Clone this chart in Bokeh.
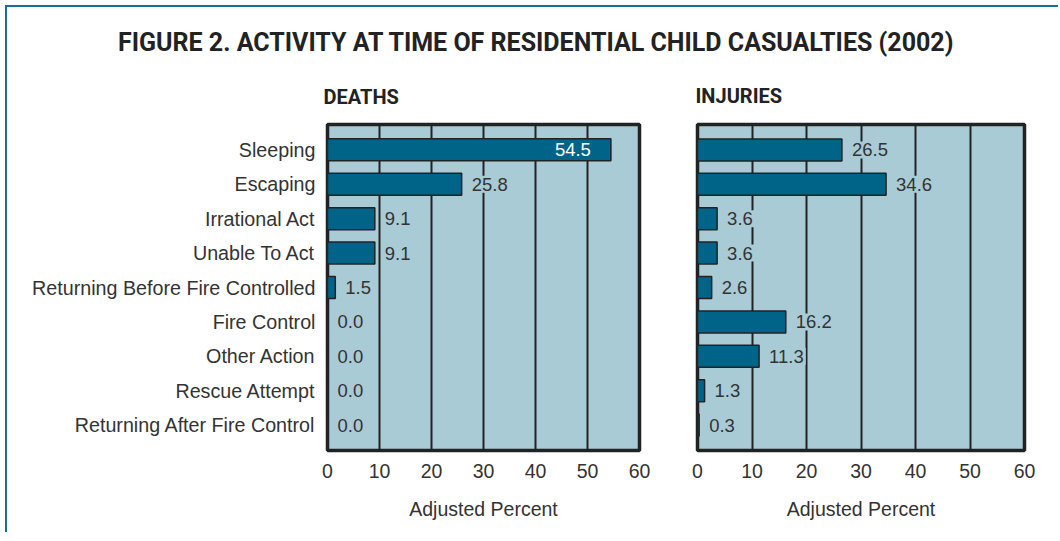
from bokeh.plotting import figure
from bokeh.models import FactorRange, Range1d, ColumnDataSource, FixedTicker
from bokeh.layouts import column, row
from bokeh.embed import file_html
from bokeh.resources import INLINE
from bokeh.core.properties import value

# ---------------- data ----------------
categories = ["Sleeping", "Escaping", "Irrational Act", "Unable To Act",
              "Returning Before Fire Controlled", "Fire Control", "Other Action",
              "Rescue Attempt", "Returning After Fire Control"]
deaths = [54.5, 25.8, 9.1, 9.1, 1.5, 0.0, 0.0, 0.0, 0.0]
injuries = [26.5, 34.6, 3.6, 3.6, 2.6, 16.2, 11.3, 1.3, 0.3]
x_ticks = [0, 10, 20, 30, 40, 50, 60]
main_title = "FIGURE 2.  ACTIVITY AT TIME OF RESIDENTIAL CHILD CASUALTIES (2002)"
panel_titles = ["DEATHS", "INJURIES"]
x_label = "Adjusted Percent"

# ---------------- style ----------------
PLOT_BG = "#a8cbd6"
BAR = "#006488"
DARK = "#222222"
TEXT = "#333333"
BORDER = "#176f93"
BODY_FONT = "Liberation Sans"
HEAD_FONT = "Roboto"


def make_panel(vals, title, width, height, mbl, mbr, mbt, mbb, pad, show_y,
               title_offset, title_standoff):
    factors = list(reversed(categories))
    p = figure(width=width, height=height,
               y_range=FactorRange(factors=factors, range_padding=pad,
                                   range_padding_units="absolute"),
               x_range=Range1d(0, 60),
               output_backend="svg", toolbar_location=None,
               min_border_left=mbl, min_border_right=mbr,
               min_border_top=mbt, min_border_bottom=mbb,
               y_axis_location="left" if show_y else None)
    p.background_fill_color = PLOT_BG
    p.border_fill_color = "white"
    p.outline_line_color = DARK
    p.outline_line_width = 3.5

    p.title.text = title
    p.title.align = "left"
    p.title.offset = title_offset
    p.title.standoff = title_standoff
    p.title.text_font = HEAD_FONT
    p.title.text_font_style = "bold"
    p.title.text_font_size = "20px"
    p.title.text_color = DARK

    p.ygrid.visible = False
    p.xgrid.grid_line_color = DARK
    p.xgrid.grid_line_width = 2

    p.xaxis.ticker = FixedTicker(ticks=x_ticks)
    p.xaxis.axis_line_color = None
    p.xaxis.major_tick_line_color = None
    p.xaxis.minor_tick_line_color = None
    p.xaxis.major_label_standoff = 7
    p.xaxis.major_label_text_font = BODY_FONT
    p.xaxis.major_label_text_font_size = "19.5px"
    p.xaxis.major_label_text_color = TEXT
    p.xaxis.axis_label = x_label
    p.xaxis.axis_label_standoff = 17
    p.xaxis.axis_label_text_font = BODY_FONT
    p.xaxis.axis_label_text_font_size = "19.5px"
    p.xaxis.axis_label_text_font_style = "normal"
    p.xaxis.axis_label_text_color = TEXT

    if show_y:
        p.yaxis.axis_line_color = None
        p.yaxis.major_tick_line_color = None
        p.yaxis.minor_tick_line_color = None
        p.yaxis.major_label_standoff = 6
        p.yaxis.major_label_text_font = BODY_FONT
        p.yaxis.major_label_text_font_size = "19.7px"
        p.yaxis.major_label_text_color = TEXT

    src = ColumnDataSource(dict(cat=categories, val=vals))
    p.hbar(y="cat", left=0, right="val", height=0.64, source=src,
           fill_color=BAR, line_color=DARK, line_width=1.5)

    inside = [v > 40 for v in vals]
    out_src = ColumnDataSource(dict(
        cat=[c for c, i in zip(categories, inside) if not i],
        val=[v for v, i in zip(vals, inside) if not i],
        label=["%.1f" % v for v, i in zip(vals, inside) if not i]))
    in_src = ColumnDataSource(dict(
        cat=[c for c, i in zip(categories, inside) if i],
        val=[v for v, i in zip(vals, inside) if i],
        label=["%.1f" % v for v, i in zip(vals, inside) if i]))

    p.text(x="val", y="cat", text="label", source=out_src, x_offset=8,
           text_align="left", text_baseline="middle",
           text_font=value(BODY_FONT), text_font_size="18.5px", text_color=TEXT,
           background_fill_color=PLOT_BG, padding=2)
    p.text(x="val", y="cat", text="label", source=in_src, x_offset=-20,
           text_align="right", text_baseline="middle",
           text_font=value(BODY_FONT), text_font_size="18.5px", text_color="white")
    return p


head = figure(width=1045, height=55, output_backend="svg", toolbar_location=None,
              x_axis_location=None, y_axis_location=None,
              x_range=Range1d(0, 1), y_range=Range1d(0, 1),
              min_border_left=20, min_border_right=1,
              min_border_top=50, min_border_bottom=0)
head.outline_line_color = None
head.grid.visible = False
head.title.text = main_title
head.title.align = "center"
head.title.offset = 16
head.title.standoff = 2
head.title.text_font = HEAD_FONT
head.title.text_font_style = "bold"
head.title.text_font_size = "25px"
head.title.text_color = DARK

p1 = make_panel(deaths, panel_titles[0], 662, 470, 320, 30, 59, 82, 0.235, True, -4, 31)
p2 = make_panel(injuries, panel_titles[1], 389, 470, 28, 34, 62, 82, 0.24, False, -2, 33)

layout = column(head, row(p1, p2),
                styles={"border-top": "2px solid " + BORDER,
                        "border-left": "2px solid " + BORDER,
                        "margin-left": "5px", "margin-top": "5px"})

open("out.html", "w").write(file_html(layout, INLINE))
